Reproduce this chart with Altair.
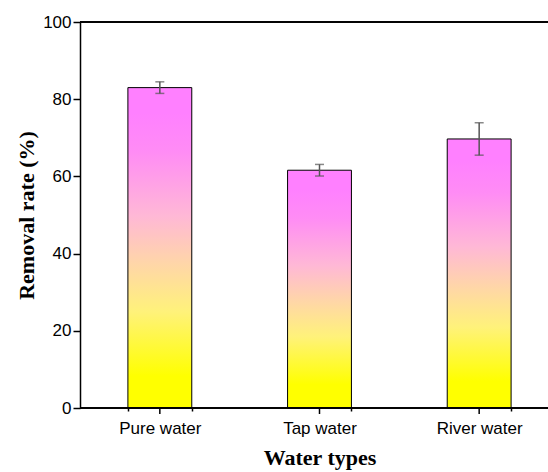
import altair as alt
import pandas as pd

# Removal rate by water type (mean and standard deviation, %)
water_types = ["Pure water", "Tap water", "River water"]
removal_rate = [83.0, 61.6, 69.7]
std_dev = [1.5, 1.5, 4.2]

df = pd.DataFrame({
    "type": water_types,
    "rate": removal_rate,
    "err": std_dev,
})
df["lo"] = df["rate"] - df["err"]
df["hi"] = df["rate"] + df["err"]

y_ticks = list(range(0, 101, 10))

bar_gradient = {
    "gradient": "linear",
    "x1": 0, "y1": 1, "x2": 0, "y2": 0,
    "stops": [
        {"offset": 0.0, "color": "#FFFF00"},
        {"offset": 0.1, "color": "#FFFF00"},
        {"offset": 0.3, "color": "#FFF27A"},
        {"offset": 0.45, "color": "#FFD6A8"},
        {"offset": 0.6, "color": "#FFB8D6"},
        {"offset": 0.8, "color": "#FF8CF5"},
        {"offset": 0.92, "color": "#FF80FF"},
        {"offset": 1.0, "color": "#FF80FF"},
    ],
}

# the x range runs a little past the visible canvas on the right
x_scale = alt.Scale(range=[0, 479], paddingInner=0.6, paddingOuter=0.3)

x_enc = alt.X(
    "type:N",
    sort=water_types,
    scale=x_scale,
    axis=alt.Axis(
        title="Water types",
        domain=False,
        tickBand="extent",
        tickSize=3,
        labelPadding=9,
        labelAngle=0,
        titlePadding=11,
        titleX=239.5,
    ),
)

y_scale = alt.Scale(domain=[0, 100], nice=False)

bars = alt.Chart(df).mark_bar(
    fill=bar_gradient, stroke="black", strokeWidth=1
).encode(
    x=x_enc,
    y=alt.Y(
        "rate:Q",
        scale=y_scale,
        axis=alt.Axis(
            title="Removal rate (%)",
            values=y_ticks,
            labelExpr="datum.value % 20 == 0 ? datum.label : ''",
            tickSize=alt.ExprRef("datum.value % 20 == 0 ? 7 : 4"),
            labelPadding=2,
            titlePadding=4,
        ),
    ),
)

# major ticks under each category
major_ticks = alt.Chart(df).mark_rule(color="black", strokeWidth=1.5).encode(
    x=alt.X("type:N", sort=water_types),
    y=alt.value(386),
    y2=alt.value(392),
)

# top and bottom frame lines
frame_top = alt.Chart(df).mark_rule(color="black", strokeWidth=1.5).encode(
    x=alt.value(0),
    x2=alt.value(468),
    y=alt.value(0),
)
frame_bottom = alt.Chart(df).mark_rule(color="black", strokeWidth=1.5).encode(
    x=alt.value(0),
    x2=alt.value(468),
    y=alt.value(386),
)

err_lines = alt.Chart(df).mark_rule(color="#555555", strokeWidth=1.5).encode(
    x=alt.X("type:N", sort=water_types),
    y=alt.Y("lo:Q", scale=y_scale),
    y2="hi:Q",
)

err_caps_hi = alt.Chart(df).mark_tick(
    color="#555555", thickness=1.5, size=9, orient="horizontal"
).encode(
    x=alt.X("type:N", sort=water_types),
    y=alt.Y("hi:Q", scale=y_scale),
)

err_caps_lo = alt.Chart(df).mark_tick(
    color="#555555", thickness=1.5, size=9, orient="horizontal"
).encode(
    x=alt.X("type:N", sort=water_types),
    y=alt.Y("lo:Q", scale=y_scale),
)

chart = alt.layer(
    bars, err_lines, err_caps_hi, err_caps_lo, major_ticks, frame_top, frame_bottom
).properties(
    width=468,
    height=386,
    autosize=alt.AutoSizeParams(type="none"),
    padding={"left": 80, "top": 22, "right": 0, "bottom": 64},
    background="white",
).configure_view(
    stroke="transparent", fill="transparent"
).configure_axis(
    domainColor="black",
    domainWidth=1.5,
    tickColor="black",
    tickWidth=1.5,
    grid=False,
    labelFont="Liberation Sans",
    labelFontSize=17,
    labelColor="black",
    titleFont="Liberation Serif",
    titleFontSize=22,
    titleFontWeight="bold",
    titleColor="black",
)

chart.save("out.html", embed_options={"renderer": "svg", "actions": False})
